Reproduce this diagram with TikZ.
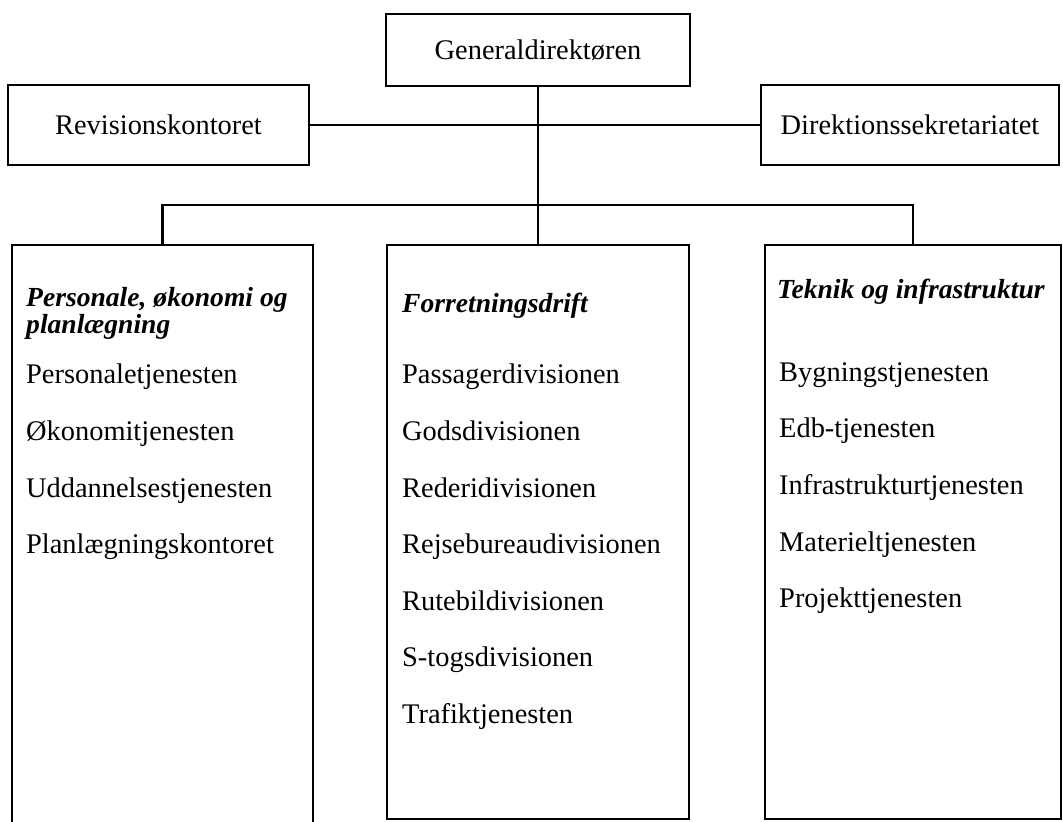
\documentclass[tikz,border=0pt]{standalone}
\usepackage{fontspec}
\setmainfont{Liberation Serif}
\usetikzlibrary{positioning}

\begin{document}
\begin{tikzpicture}[x=0.5pt,y=-0.5pt,line width=1.2pt,
  font=\fontsize{14.2pt}{17pt}\selectfont,
  unit/.style={draw,inner sep=0pt,minimum height=40pt},
  dept/.style={draw,inner sep=0pt,anchor=north},
  item/.style={anchor=base west,inner sep=0pt},
  head/.style={item,align=left,font=\fontsize{13.8pt}{12.5pt}\selectfont\bfseries\itshape}]
\useasboundingbox (0,0) rectangle (1063,822);

% top level
\node[unit,minimum width=152pt,minimum height=36pt] (gen) at (538,50) {Generaldirektøren};
\node[unit,minimum width=150.5pt] (rev) at (158.5,125) {Revisionskontoret};
\node[unit,minimum width=149pt] (dir) at (910,125) {Direktionssekretariatet};

% the three groups
\node[dept,minimum width=150.5pt,minimum height=294pt] (pol) at (162.5,244) {};
\node[dept,minimum width=151pt,minimum height=287pt] (fd) at (538,244) {};
\node[dept,minimum width=148pt,minimum height=287pt] (tek) at (913,244) {};

\node[head] (polh) at (25,334) {Personale, økonomi og\\planlægning};
\node[head] (fdh) at (401,313) {Forretningsdrift};
\node[head] (tekh) at (776,299) {Teknik og infrastruktur};

\foreach \t [count=\i] in {Personaletjenesten,Økonomitjenesten,
  Uddannelsestjenesten,Planlægningskontoret}
  \node[item] (pol\i) at (25,{327.5+56.5*\i}) {\t};
\foreach \t [count=\i] in {Passagerdivisionen,Godsdivisionen,Rederidivisionen,
  Rejsebureaudivisionen,Rutebildivisionen,S-togsdivisionen,Trafiktjenesten}
  \node[item] (fd\i) at (401,{327.5+56.5*\i}) {\t};
\foreach \t [count=\i] in {Bygningstjenesten,Edb-tjenesten,
  Infrastrukturtjenesten,Materieltjenesten,Projekttjenesten}
  \node[item] (tek\i) at (778,{325+56.5*\i}) {\t};

% connectors
\coordinate (bus) at (538,205);
\draw (gen) -- (fd);
\draw (rev) -- (dir);
\draw (pol.north) |- (bus) -| (tek.north);
\end{tikzpicture}
\end{document}
